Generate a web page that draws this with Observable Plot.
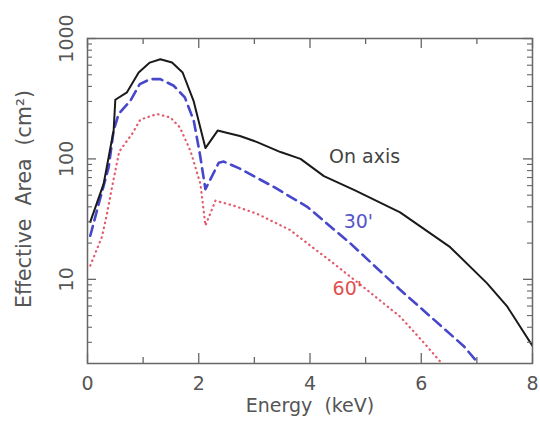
<!DOCTYPE html>
<html>
<head>
<meta charset="utf-8">
<script src="https://cdn.jsdelivr.net/npm/d3@7"></script>
<script src="https://cdn.jsdelivr.net/npm/@observablehq/plot@0.6"></script>
<style>
  html, body { margin: 0; padding: 0; background: #fff; }
  #chart svg { display: block; }
</style>
</head>
<body>
<div id="chart"></div>
<script>
// ---- data ----
const onAxisE = [0.05, 0.29, 0.47, 0.50, 0.71, 0.92, 1.12, 1.31, 1.52, 1.71, 1.91, 2.12, 2.34, 2.50, 2.74, 3.05, 3.47, 3.83, 4.25, 4.80, 5.62, 6.52, 7.18, 7.54, 8.0];
const onAxisA = [30, 62, 172, 310, 357, 522, 631, 673, 631, 522, 300, 123, 172, 165, 155, 138, 114, 100, 72, 55, 36, 18.5, 9.3, 6.0, 2.8];

const off30E = [0.05, 0.20, 0.38, 0.47, 0.56, 0.77, 0.94, 1.13, 1.31, 1.55, 1.75, 1.91, 2.02, 2.12, 2.36, 2.45, 2.74, 3.35, 3.95, 4.72, 5.62, 6.76, 7.03];
const off30A = [23, 42, 85, 172, 236, 304, 418, 460, 460, 405, 324, 208, 110, 56, 93, 95, 83, 58.5, 40, 20, 8.2, 2.8, 2.0];

const off60E = [0.05, 0.26, 0.35, 0.44, 0.57, 0.80, 0.95, 1.25, 1.49, 1.66, 1.85, 2.03, 2.12, 2.30, 2.62, 3.05, 3.64, 4.42, 5.02, 5.62, 6.04, 6.37];
const off60A = [13, 22.6, 35, 58, 115, 161, 212, 236, 221, 183, 117, 62, 28, 45, 41, 35, 25.7, 13.6, 8.2, 4.9, 3.0, 2.0];

const xMajorTicks = [0, 2, 4, 6, 8];
const xMinorTicks = [1, 3, 5, 7];
const yMajorTicks = [10, 100, 1000];
const yMinorTicks = [3, 4, 5, 6, 7, 8, 9, 20, 30, 40, 50, 60, 70, 80, 90, 200, 300, 400, 500, 600, 700, 800, 900];
const yTickLabels = ["10", "100", "1000"];

const labelText = ["On axis", "30'", "60'"];
const labelE = [4.98, 4.87, 4.67];
const labelA = [103, 30, 8.3];

// ---- build tables ----
const onAxis = onAxisE.map((e, i) => ({E: e, A: onAxisA[i]}));
const off30 = off30E.map((e, i) => ({E: e, A: off30A[i]}));
const off60 = off60E.map((e, i) => ({E: e, A: off60A[i]}));
const labels = labelText.map((t, i) => ({t, E: labelE[i], A: labelA[i], c: ["#444", "#5656c8", "#e05050"][i]}));

const W = 540, H = 423;
const mL = 87, mR = 8, mT = 38, mB = 60;
const fw = W - mL - mR, fh = H - mT - mB;
const font = "DejaVu Sans, sans-serif";
const grey = "#555";

const chart = Plot.plot({
  width: W,
  height: H,
  marginLeft: mL,
  marginRight: mR,
  marginTop: mT,
  marginBottom: mB,
  style: {fontFamily: font, background: "#fff"},
  x: {domain: [0, 8], axis: null},
  y: {type: "log", domain: [2, 1000], axis: null},
  marks: [
    // curves
    Plot.line(off60, {x: "E", y: "A", stroke: "#e25a6c", strokeWidth: 2.2, strokeDasharray: "0.5,4.5", strokeLinecap: "round", clip: true}),
    Plot.line(off30, {x: "E", y: "A", stroke: "#4747cc", strokeWidth: 2.6, strokeDasharray: "10,6", clip: true}),
    Plot.line(onAxis, {x: "E", y: "A", stroke: "#1a1a1a", strokeWidth: 2, clip: true}),
    // frame
    Plot.frame({stroke: "#666", strokeWidth: 1.5}),
    // inward ticks (bottom/top)
    Plot.ruleX(xMajorTicks, {x: d => d, insetTop: fh - 10, stroke: "#666", strokeWidth: 1.3}),
    Plot.ruleX(xMajorTicks, {x: d => d, insetBottom: fh - 10, stroke: "#666", strokeWidth: 1.3}),
    Plot.ruleX(xMinorTicks, {x: d => d, insetTop: fh - 6, stroke: "#666", strokeWidth: 1.3}),
    Plot.ruleX(xMinorTicks, {x: d => d, insetBottom: fh - 6, stroke: "#666", strokeWidth: 1.3}),
    // inward ticks (left/right)
    Plot.ruleY(yMajorTicks, {y: d => d, insetRight: fw - 9, stroke: "#666", strokeWidth: 1.3}),
    Plot.ruleY(yMajorTicks, {y: d => d, insetLeft: fw - 9, stroke: "#666", strokeWidth: 1.3}),
    Plot.ruleY(yMinorTicks, {y: d => d, insetRight: fw - 5, stroke: "#666", strokeWidth: 1.1}),
    Plot.ruleY(yMinorTicks, {y: d => d, insetLeft: fw - 5, stroke: "#666", strokeWidth: 1.1}),
    // tick labels
    Plot.text(xMajorTicks, {x: d => d, frameAnchor: "bottom", textAnchor: "middle", lineAnchor: "middle", dy: 20, text: d => String(d), fontSize: 19, fill: grey}),
    Plot.text(yMajorTicks, {y: d => d, frameAnchor: "left", textAnchor: "middle", lineAnchor: "middle", dx: -21, rotate: -90, text: (d, i) => yTickLabels[i], fontSize: 19, fill: grey}),
    // axis titles
    Plot.text(["Energy  (keV)"], {x: 4, frameAnchor: "bottom", textAnchor: "middle", lineAnchor: "middle", dy: 42, text: d => d, fontSize: 19, fill: grey}),
    Plot.text(["Effective  Area  (cm²)"], {frameAnchor: "left", textAnchor: "middle", lineAnchor: "middle", dx: -63, dy: -2, rotate: -90, text: d => d, fontSize: 20.5, fill: grey}),
    // curve labels
    Plot.text(labels, {x: "E", y: "A", text: "t", fill: "c", fontSize: 19})
  ]
});
document.getElementById("chart").appendChild(chart);
</script>
</body>
</html>
